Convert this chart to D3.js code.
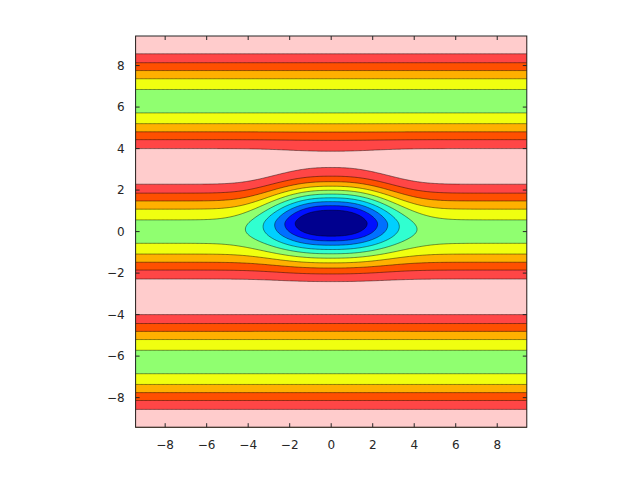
<!DOCTYPE html>
<html><head><meta charset="utf-8">
<script src="https://cdn.jsdelivr.net/npm/d3@7"></script>
<style>body{margin:0;background:#fff}</style>
</head><body><svg id="c" width="640" height="480"></svg>
<script>
// ---- data ----
const xTicks = [-8, -6, -4, -2, 0, 2, 4, 6, 8];
const yTicks = [-8, -6, -4, -2, 0, 2, 4, 6, 8];
const levels = [-2.719, -2.344, -1.970, -1.595, -1.220, -0.845, -0.470, -0.095, 0.279, 0.654];
const bandColors = ["#00008f", "#0010ff", "#0070ff", "#00d0ff", "#30ffd0", "#90ff70",
                    "#f0ff10", "#ffb000", "#ff5000", "#ff4646", "#ffcccc"];
const domainX = [-3 * Math.PI, 3 * Math.PI];
const domainY = [-3 * Math.PI, 3 * Math.PI];
// estimated surface: z = -cos(y) - depth * fx(x) * fy(y)
const dipDepth = 2.4, dipY = 0.484;
const dipSX = 2.95, dipPX = 2.4;            // x profile
const dipSYup = 1.87, dipPYup = 2.0;        // y profile above the dip centre
const dipSYdown = 1.405, dipPYdown = 1.65;  // y profile below the dip centre

function surface(x, y) {
  const up = y > dipY;
  const sy = up ? dipSYup : dipSYdown;
  const py = up ? dipPYup : dipPYdown;
  const fx = Math.exp(-Math.pow(Math.abs(x) / dipSX, dipPX));
  const fy = Math.exp(-Math.pow(Math.abs(y - dipY) / sy, py));
  return -Math.cos(y) - dipDepth * fx * fy;
}

// ---- layout ----
const L = 135.6, R = 526.8, T = 36, B = 427.2;
const svg = d3.select("#c");
const xs = d3.scaleLinear().domain(domainX).range([L, R]);
const ys = d3.scaleLinear().domain(domainY).range([B, T]);

// ---- grid ----
const N = 301;
const dx = (domainX[1] - domainX[0]) / (N - 1);
const dy = (domainY[1] - domainY[0]) / (N - 1);
const values = new Float64Array(N * N);
for (let j = 0; j < N; j++) {
  const y = domainY[1] - j * dy;
  for (let i = 0; i < N; i++) {
    const x = domainX[0] + i * dx;
    values[j * N + i] = surface(x, y);
  }
}
const contours = d3.contours().size([N, N]).thresholds(levels)(values);

const proj = d3.geoTransform({
  point(gx, gy) {
    this.stream.point(xs(domainX[0] + (gx - 0.5) * dx), ys(domainY[1] - (gy - 0.5) * dy));
  }
});
const path = d3.geoPath(proj);

svg.append("defs").append("clipPath").attr("id", "clip")
  .append("rect").attr("x", L).attr("y", T).attr("width", R - L).attr("height", B - T);

const g = svg.append("g").attr("clip-path", "url(#clip)");
g.append("rect").attr("x", L).attr("y", T).attr("width", R - L).attr("height", B - T)
  .attr("fill", bandColors[0]);
g.selectAll("path.band").data(contours).join("path")
  .attr("class", "band")
  .attr("d", path)
  .attr("fill", (d, i) => bandColors[i + 1])
  .attr("stroke", "#000")
  .attr("stroke-opacity", 0.75)
  .attr("stroke-width", 0.6);

// ---- axes ----
const axisColor = "#262626";
const tl = 4;
const ax = svg.append("g");
ax.append("rect").attr("x", L).attr("y", T).attr("width", R - L).attr("height", B - T)
  .attr("fill", "none").attr("stroke", axisColor).attr("stroke-width", 1);
xTicks.forEach(t => {
  const x = xs(t);
  ax.append("line").attr("x1", x).attr("x2", x).attr("y1", B).attr("y2", B - tl).attr("stroke", axisColor);
  ax.append("line").attr("x1", x).attr("x2", x).attr("y1", T).attr("y2", T + tl).attr("stroke", axisColor);
  ax.append("text").attr("x", x).attr("y", B + 22).attr("text-anchor", "middle")
    .attr("font-family", "DejaVu Sans").attr("font-size", 12).attr("fill", axisColor)
    .text(String(t).replace("-", "\u2212"));
});
yTicks.forEach(t => {
  const y = ys(t);
  ax.append("line").attr("x1", L).attr("x2", L + tl).attr("y1", y).attr("y2", y).attr("stroke", axisColor);
  ax.append("line").attr("x1", R).attr("x2", R - tl).attr("y1", y).attr("y2", y).attr("stroke", axisColor);
  ax.append("text").attr("x", L - 11).attr("y", y).attr("dy", "0.35em").attr("text-anchor", "end")
    .attr("font-family", "DejaVu Sans").attr("font-size", 12).attr("fill", axisColor)
    .text(String(t).replace("-", "\u2212"));
});
</script></body></html>
